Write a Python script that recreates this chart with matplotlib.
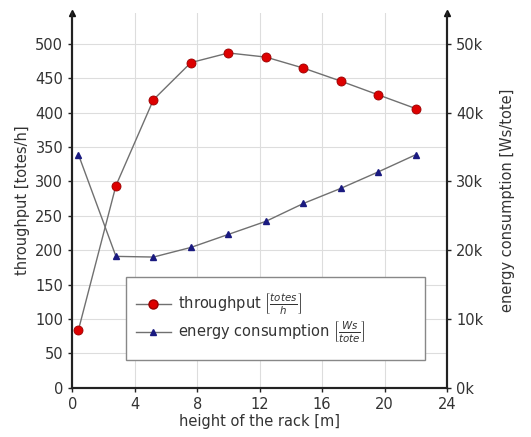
import matplotlib.pyplot as plt
from matplotlib.patches import Rectangle
from matplotlib.lines import Line2D

# height of the rack [m]
hoehe = [0.4, 2.8, 5.2, 7.6, 10.0, 12.4, 14.8, 17.2, 19.6, 22.0]
# throughput [totes/h]
durchsatz = [84, 294, 419, 473, 487, 481, 465, 446, 426, 406]
# energy consumption [Ws/tote]
energie = [33900, 19100, 19000, 20400, 22300, 24200, 26800, 29000, 31400, 33900]

plt.rcParams['font.family'] = ['DejaVu Sans']
plt.rcParams['font.size'] = 10

fig = plt.figure(figsize=(5.31, 4.37), dpi=100)
ax = fig.add_axes([0.136, 0.113, 0.706, 0.857])
ax2 = ax.twinx()

ax.plot(hoehe, durchsatz, color='#707070', lw=1, marker='o', ms=6.5,
        mfc='#dd0000', mec='#990000', mew=0.6, zorder=3)
ax2.plot(hoehe, energie, color='#707070', lw=1, marker='^', ms=4.5,
         mfc='#1a1a80', mec='#1a1a80', zorder=3)

ax.set_xlim(0, 24)
ax.set_ylim(0, 545)
ax2.set_ylim(0, 54500)
ax.set_xticks([0, 4, 8, 12, 16, 20, 24])
ax.set_yticks(range(0, 501, 50))
ax2.set_yticks(range(0, 50001, 10000))
ax2.set_yticklabels(['%dk' % (v // 1000) for v in range(0, 50001, 10000)])

ax.grid(True, color='#dddddd', lw=0.8)
ax.set_axisbelow(True)

for a in (ax, ax2):
    a.spines['top'].set_visible(False)
    for s in a.spines.values():
        s.set_linewidth(1.5)
        s.set_color('#222222')
    a.tick_params(length=3, width=1, colors='#222222', labelcolor='#333333', labelsize=10.5)

# Pfeile an den y-Achsen
ax.plot(0, 1, '^', color='#111111', ms=5, transform=ax.transAxes, clip_on=False)
ax.plot(1, 1, '^', color='#111111', ms=5, transform=ax.transAxes, clip_on=False)

ax.set_xlabel('height of the rack [m]', color='#333333', fontsize=10.5, labelpad=2)
ax.set_ylabel('throughput [totes/h]', color='#333333', fontsize=10.5)
ax2.set_ylabel('energy consumption [Ws/tote]', color='#333333', fontsize=10.5, labelpad=12)

# Legende mit grossem Rahmen
ax.add_patch(Rectangle((0.144, 0.073), 0.797, 0.222, transform=ax.transAxes,
                       facecolor='white', edgecolor='#888888', lw=1, zorder=4))
handles = [
    Line2D([], [], color='#707070', lw=1, marker='o', ms=6.5, mfc='#dd0000', mec='#990000'),
    Line2D([], [], color='#707070', lw=1, marker='^', ms=4.5, mfc='#1a1a80', mec='#1a1a80'),
]
labels = [r'throughput $\left[\frac{totes}{h}\right]$',
          r'energy consumption $\left[\frac{Ws}{tote}\right]$']
leg = ax.legend(handles, labels, loc='upper left', bbox_to_anchor=(0.135, 0.29),
                frameon=False, fontsize=10.5, handlelength=2.4, handletextpad=0.5,
                labelspacing=0.15, labelcolor='#333333')
leg.set_zorder(5)

fig.savefig('out.png', dpi=100)
